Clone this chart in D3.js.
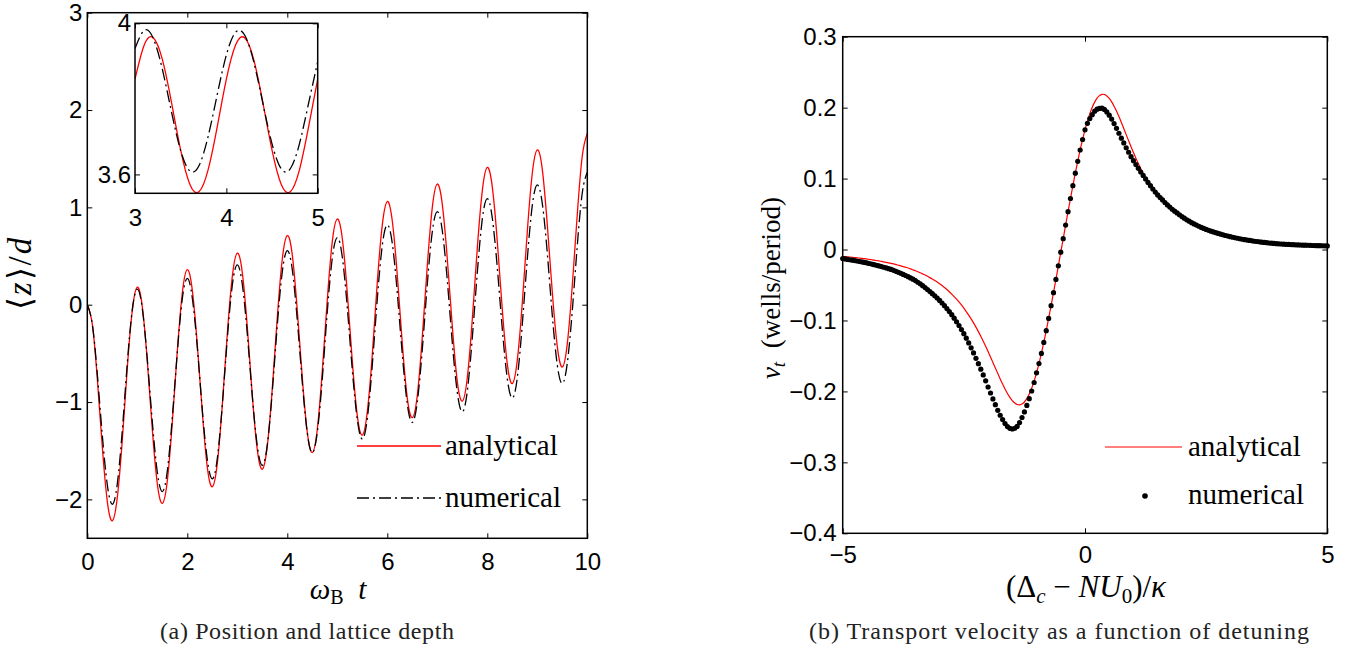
<!DOCTYPE html>
<html>
<head>
<meta charset="utf-8">
<script src="https://cdn.jsdelivr.net/npm/d3@7"></script>
<style>
body { margin: 0; background: #fff; }
svg { display: block; }
.tick text { font-family: "Liberation Sans", Arial, sans-serif; font-size: 24px; fill: #000; }
.tick line { stroke: #000; stroke-width: 1; }
</style>
</head>
<body>
<svg id="fig" width="1356" height="652"></svg>
<script>

// ---- (a) position <z>/d against omega_B t, sampled every 0.1 from t = 0
var timeStart = 0, timeStep = 0.1;
var posAnalytical = [
  0.00,-0.20,-0.76,-1.46,-2.02,-2.22,-1.98,-1.39,-0.65,-0.06,
  0.18,-0.02,-0.58,-1.28,-1.84,-2.04,-1.81,-1.21,-0.48,0.12,
  0.36,0.15,-0.41,-1.10,-1.67,-1.87,-1.63,-1.03,-0.30,0.29,
  0.53,0.33,-0.23,-0.93,-1.49,-1.69,-1.45,-0.86,-0.13,0.47,
  0.71,0.51,-0.06,-0.75,-1.31,-1.52,-1.28,-0.68,0.05,0.65,
  0.88,0.68,0.12,-0.58,-1.14,-1.34,-1.10,-0.51,0.23,0.82,
  1.06,0.86,0.30,-0.40,-0.96,-1.16,-0.93,-0.33,0.40,1.00,
  1.24,1.03,0.47,-0.22,-0.79,-0.99,-0.75,-0.15,0.58,1.17,
  1.41,1.21,0.65,-0.05,-0.61,-0.81,-0.57,0.02,0.75,1.35,
  1.59,1.39,0.82,0.13,-0.43,-0.64,-0.40,0.20,0.93,1.53,
  1.76];
var posNumerical = [
  0.00,-0.20,-0.71,-1.34,-1.85,-2.05,-1.84,-1.29,-0.60,-0.05,
  0.16,-0.04,-0.56,-1.20,-1.72,-1.92,-1.71,-1.16,-0.49,0.06,
  0.27,0.07,-0.44,-1.08,-1.59,-1.79,-1.58,-1.03,-0.35,0.20,
  0.41,0.21,-0.30,-0.94,-1.45,-1.65,-1.44,-0.89,-0.21,0.34,
  0.555,0.36,-0.16,-0.80,-1.32,-1.52,-1.31,-0.76,-0.07,0.48,
  0.69,0.49,-0.03,-0.67,-1.18,-1.38,-1.17,-0.62,0.06,0.61,
  0.82,0.63,0.12,-0.51,-1.02,-1.21,-1.00,-0.46,0.21,0.75,
  0.956,0.76,0.25,-0.39,-0.90,-1.10,-0.89,-0.34,0.33,0.88,
  1.09,0.89,0.38,-0.25,-0.76,-0.96,-0.75,-0.20,0.47,1.02,
  1.23,1.04,0.53,-0.11,-0.62,-0.81,-0.60,-0.06,0.61,1.15,
  1.36];
var posTicksX = [0, 2, 4, 6, 8, 10];
var posTicksY = [-2, -1, 0, 1, 2, 3];

// inset: lattice depth, t = 3 .. 5 every 0.1
var insetStart = 3, insetStep = 0.1;
var depthAnalytical = [3.852,3.942,3.962,3.904,3.790,3.664,3.574,3.554,3.612,3.726,
  3.852,3.942,3.962,3.904,3.790,3.664,3.574,3.554,3.612,3.726,3.852];
var depthNumerical = [3.933,3.981,3.960,3.878,3.765,3.663,3.609,3.623,3.700,3.811,
  3.916,3.976,3.969,3.898,3.788,3.681,3.615,3.615,3.681,3.788,3.898];
var insetTicksX = [3, 4, 5];
var insetTicksY = [3.6, 4];

// ---- (b) transport velocity against detuning, every 0.05 from -5
var detuneStart = -5, detuneStep = 0.05;
var velAnalytical = [
  -0.0095,-0.0099,-0.0102,-0.0105,-0.0109,-0.0113,-0.0116,-0.0121,-0.0125,-0.0129,
  -0.0134,-0.0139,-0.0144,-0.0149,-0.0155,-0.0161,-0.0167,-0.0174,-0.0180,-0.0188,
  -0.0195,-0.0203,-0.0212,-0.0221,-0.0230,-0.0240,-0.0250,-0.0261,-0.0273,-0.0286,
  -0.0299,-0.0313,-0.0327,-0.0343,-0.0359,-0.0377,-0.0396,-0.0416,-0.0437,-0.0459,
  -0.0483,-0.0508,-0.0535,-0.0564,-0.0595,-0.0628,-0.0663,-0.0700,-0.0739,-0.0781,
  -0.0826,-0.0874,-0.0924,-0.0978,-0.1034,-0.1094,-0.1157,-0.1223,-0.1292,-0.1363,
  -0.1438,-0.1514,-0.1591,-0.1669,-0.1747,-0.1824,-0.1897,-0.1967,-0.2030,-0.2085,
  -0.2130,-0.2164,-0.2184,-0.2189,-0.2178,-0.2149,-0.2102,-0.2037,-0.1954,-0.1854,
  -0.1738,-0.1607,-0.1464,-0.1309,-0.1144,-0.0971,-0.0792,-0.0608,-0.0421,-0.0230,
  -0.0038,0.0153,0.0344,0.0533,0.0719,0.0900,0.1076,0.1244,0.1403,0.1551,
  0.1687,0.1809,0.1916,0.2006,0.2078,0.2133,0.2169,0.2187,0.2185,0.2164,
  0.2129,0.2081,0.2021,0.1951,0.1874,0.1792,0.1707,0.1620,0.1534,0.1449,
  0.1367,0.1288,0.1213,0.1141,0.1074,0.1010,0.0951,0.0900,0.0853,0.0810,
  0.0770,0.0733,0.0699,0.0663,0.0629,0.0598,0.0568,0.0541,0.0516,0.0490,
  0.0465,0.0442,0.0419,0.0399,0.0379,0.0361,0.0344,0.0328,0.0312,0.0297,
  0.0284,0.0271,0.0259,0.0248,0.0237,0.0227,0.0217,0.0207,0.0198,0.0189,
  0.0181,0.0173,0.0166,0.0159,0.0152,0.0145,0.0139,0.0133,0.0128,0.0122,
  0.0117,0.0113,0.0108,0.0104,0.0100,0.0096,0.0092,0.0089,0.0086,0.0083,
  0.0080,0.0078,0.0076,0.0074,0.0072,0.0070,0.0068,0.0067,0.0065,0.0064,
  0.0062,0.0061,0.0060,0.0059,0.0057,0.0056,0.0055,0.0054,0.0053,0.0052,
  0.0051];
var velNumerical = [
  -0.0127,-0.0133,-0.0139,-0.0144,-0.0150,-0.0156,-0.0162,-0.0169,-0.0175,-0.0182,
  -0.0189,-0.0197,-0.0205,-0.0213,-0.0222,-0.0231,-0.0240,-0.0250,-0.0259,-0.0270,
  -0.0280,-0.0293,-0.0307,-0.0322,-0.0336,-0.0351,-0.0366,-0.0383,-0.0400,-0.0418,
  -0.0437,-0.0461,-0.0484,-0.0510,-0.0536,-0.0564,-0.0592,-0.0622,-0.0653,-0.0684,
  -0.0718,-0.0754,-0.0792,-0.0832,-0.0874,-0.0918,-0.0967,-0.1018,-0.1071,-0.1127,
  -0.1186,-0.1250,-0.1316,-0.1386,-0.1458,-0.1534,-0.1609,-0.1687,-0.1768,-0.1851,
  -0.1938,-0.2022,-0.2106,-0.2187,-0.2267,-0.2336,-0.2397,-0.2452,-0.2495,-0.2520,
  -0.2530,-0.2519,-0.2494,-0.2439,-0.2368,-0.2289,-0.2197,-0.2102,-0.1994,-0.1874,
  -0.1738,-0.1607,-0.1464,-0.1309,-0.1144,-0.0971,-0.0792,-0.0608,-0.0421,-0.0230,
  -0.0038,0.0153,0.0344,0.0533,0.0719,0.0900,0.1076,0.1244,0.1403,0.1551,
  0.1687,0.1779,0.1846,0.1901,0.1950,0.1978,0.1989,0.1992,0.1975,0.1940,
  0.1894,0.1839,0.1776,0.1708,0.1639,0.1570,0.1502,0.1435,0.1371,0.1309,
  0.1252,0.1198,0.1145,0.1093,0.1044,0.0995,0.0946,0.0900,0.0853,0.0810,
  0.0770,0.0733,0.0699,0.0663,0.0629,0.0598,0.0568,0.0541,0.0516,0.0490,
  0.0465,0.0442,0.0419,0.0399,0.0379,0.0361,0.0344,0.0328,0.0312,0.0297,
  0.0284,0.0271,0.0259,0.0248,0.0237,0.0227,0.0217,0.0207,0.0198,0.0189,
  0.0181,0.0173,0.0166,0.0159,0.0152,0.0145,0.0139,0.0133,0.0128,0.0122,
  0.0117,0.0113,0.0108,0.0104,0.0100,0.0096,0.0092,0.0089,0.0086,0.0083,
  0.0080,0.0078,0.0076,0.0074,0.0072,0.0070,0.0068,0.0067,0.0065,0.0064,
  0.0062,0.0061,0.0060,0.0059,0.0057,0.0056,0.0055,0.0054,0.0053,0.0052,
  0.0051];
var velTicksX = [-5, 0, 5];
var velTicksY = [-0.4, -0.3, -0.2, -0.1, 0, 0.1, 0.2, 0.3];

var legendNames = ["analytical", "numerical"];
var captions = ["(a) Position and lattice depth", "(b) Transport velocity as a function of detuning"];

var red = "#ff0000";
var dashDot = "12,4,2,4";
var serif = "'Liberation Serif', 'Times New Roman', serif";

var svg = d3.select("#fig");

function minus(s) { return String(s).replace("-", "\u2212"); }

// serif text element helper
function serifText(g, size) {
    return g.append("text")
        .style("font-family", serif)
        .style("font-size", size + "px")
        .attr("fill", "#000");
}

// box with inward ticks on all four sides (matlab style)
function frame(g, x, y, tx, ty, fx, fy, padX, padY) {
    var x0 = x.range()[0], x1 = x.range()[1], y0 = y.range()[0], y1 = y.range()[1];
    g.append("g").attr("transform", "translate(0," + y0 + ")")
        .call(d3.axisBottom(x).tickValues(tx).tickSize(-5).tickPadding(padX).tickFormat(fx))
        .call(function(a) { a.select(".domain").remove(); });
    g.append("g").attr("transform", "translate(0," + y1 + ")")
        .call(d3.axisTop(x).tickValues(tx).tickSize(-5).tickFormat(""))
        .call(function(a) { a.select(".domain").remove(); });
    g.append("g").attr("transform", "translate(" + x0 + ",0)")
        .call(d3.axisLeft(y).tickValues(ty).tickSize(-5).tickPadding(padY).tickFormat(fy))
        .call(function(a) { a.select(".domain").remove(); });
    g.append("g").attr("transform", "translate(" + x1 + ",0)")
        .call(d3.axisRight(y).tickValues(ty).tickSize(-5).tickFormat(""))
        .call(function(a) { a.select(".domain").remove(); });
    g.append("rect")
        .attr("x", x0).attr("y", y1)
        .attr("width", x1 - x0).attr("height", y0 - y1)
        .attr("fill", "none").attr("stroke", "#000").attr("stroke-width", 1.5);
}

function clip(id, x, y) {
    svg.append("clipPath").attr("id", id).append("rect")
        .attr("x", x.range()[0]).attr("y", y.range()[1])
        .attr("width", x.range()[1] - x.range()[0])
        .attr("height", y.range()[0] - y.range()[1]);
}

function curvePath(arr, start, step, x, y) {
    return d3.line()
        .x(function(d, i) { return x(start + i * step); })
        .y(function(d) { return y(d); })
        .curve(d3.curveNatural)(arr);
}

// ================= panel (a) =================
var xa = d3.scaleLinear().domain([0, 10]).range([87.3, 587.3]);
var ya = d3.scaleLinear().domain([-2.4, 3]).range([538.3, 12.7]);
clip("clipA", xa, ya);

var ga = svg.append("g");
ga.append("path").attr("clip-path", "url(#clipA)")
    .attr("d", curvePath(posAnalytical, timeStart, timeStep, xa, ya))
    .attr("fill", "none").attr("stroke", red).attr("stroke-width", 1.3);
ga.append("path").attr("clip-path", "url(#clipA)")
    .attr("d", curvePath(posNumerical, timeStart, timeStep, xa, ya))
    .attr("fill", "none").attr("stroke", "#000").attr("stroke-width", 1.3)
    .attr("stroke-dasharray", dashDot);

frame(ga, xa, ya, posTicksX, posTicksY,
    function(d) { return minus(d); }, function(d) { return minus(d); }, 15, 5);

// legend (no box)
ga.append("line").attr("x1", 357).attr("x2", 441).attr("y1", 446).attr("y2", 446)
    .attr("stroke", red).attr("stroke-width", 1.3);
ga.append("line").attr("x1", 357).attr("x2", 441).attr("y1", 498).attr("y2", 498)
    .attr("stroke", "#000").attr("stroke-width", 1.3).attr("stroke-dasharray", dashDot);
legendNames.forEach(function(name, i) {
    serifText(ga, 29).attr("x", 445).attr("y", 455 + i * 52).text(name);
});

// inset
var xi = d3.scaleLinear().domain([3, 5]).range([135, 317.7]);
var yi = d3.scaleLinear().domain([3.55, 4]).range([193.3, 23.3]);
clip("clipI", xi, yi);
var gi = svg.append("g");
gi.append("rect").attr("x", 135).attr("y", 23.3).attr("width", 182.7).attr("height", 170).attr("fill", "#fff");
gi.append("path").attr("clip-path", "url(#clipI)")
    .attr("d", curvePath(depthAnalytical, insetStart, insetStep, xi, yi))
    .attr("fill", "none").attr("stroke", red).attr("stroke-width", 1.3);
gi.append("path").attr("clip-path", "url(#clipI)")
    .attr("d", curvePath(depthNumerical, insetStart, insetStep, xi, yi))
    .attr("fill", "none").attr("stroke", "#000").attr("stroke-width", 1.3)
    .attr("stroke-dasharray", dashDot);
frame(gi, xi, yi, insetTicksX, insetTicksY,
    function(d) { return d; }, function(d) { return d; }, 16, 4);

// axis labels (a)
serifText(ga, 33).attr("text-anchor", "middle").style("letter-spacing", "2px")
    .attr("transform", "translate(31,273) rotate(-90)")
    .call(function(t) {
        t.append("tspan").text("\u27E8");
        t.append("tspan").style("font-style", "italic").text("z");
        t.append("tspan").text("\u27E9/");
        t.append("tspan").style("font-style", "italic").text("d");
    });
serifText(ga, 29).attr("text-anchor", "middle").attr("x", 338).attr("y", 599)
    .call(function(t) {
        t.append("tspan").style("font-style", "italic").text("\u03C9");
        t.append("tspan").attr("dy", 5).style("font-size", "20px").text("B");
        t.append("tspan").attr("dy", -5).style("font-style", "italic").text("\u2002t");
    });

// ================= panel (b) =================
var xb = d3.scaleLinear().domain([-5, 5]).range([842.7, 1327.3]);
var yb = d3.scaleLinear().domain([-0.4, 0.3]).range([533.3, 36.7]);
clip("clipB", xb, yb);

var gb = svg.append("g");
gb.append("path").attr("clip-path", "url(#clipB)")
    .attr("d", curvePath(velAnalytical, detuneStart, detuneStep, xb, yb))
    .attr("fill", "none").attr("stroke", red).attr("stroke-width", 1.2);
gb.selectAll("circle.num").data(velNumerical).enter().append("circle")
    .attr("class", "num")
    .attr("cx", function(d, i) { return xb(detuneStart + i * detuneStep); })
    .attr("cy", function(d) { return yb(d); })
    .attr("r", 2.6).attr("fill", "#000");

frame(gb, xb, yb, velTicksX, velTicksY,
    function(d) { return minus(d); },
    function(d) { return d === 0 ? "0" : minus(d3.format(".1f")(d)); }, 13, 6);

gb.append("line").attr("x1", 1105).attr("x2", 1182).attr("y1", 447).attr("y2", 447)
    .attr("stroke", red).attr("stroke-width", 1.2);
gb.append("circle").attr("cx", 1145).attr("cy", 496).attr("r", 2.8).attr("fill", "#000");
legendNames.forEach(function(name, i) {
    serifText(gb, 29).attr("x", 1188).attr("y", 456 + i * 48).text(name);
});

serifText(gb, 27).attr("text-anchor", "middle")
    .attr("transform", "translate(780,288) rotate(-90)")
    .call(function(t) {
        t.append("tspan").style("font-style", "italic").text("v");
        t.append("tspan").attr("dy", 5).style("font-size", "19px").style("font-style", "italic").text("t");
        t.append("tspan").attr("dy", -5).text("\u2002(wells/period)");
    });
serifText(gb, 31).attr("text-anchor", "middle").attr("x", 1086).attr("y", 597)
    .call(function(t) {
        t.append("tspan").text("(\u0394");
        t.append("tspan").attr("dy", 6).style("font-size", "21px").style("font-style", "italic").text("c");
        t.append("tspan").attr("dy", -6).text("\u2005\u2212\u2005");
        t.append("tspan").style("font-style", "italic").text("NU");
        t.append("tspan").attr("dy", 6).style("font-size", "21px").text("0");
        t.append("tspan").attr("dy", -6).text(")/");
        t.append("tspan").style("font-style", "italic").text("\u03BA");
    });

// captions (centred on each subfigure)
captions.forEach(function(c, i) {
    serifText(svg, 24).attr("fill", "#222").attr("text-anchor", "middle")
        .attr("x", i === 0 ? 307 : 1059).attr("y", 639)
        .attr("textLength", i === 0 ? 294 : 500).attr("lengthAdjust", "spacing")
        .text(c);
});

</script>
</body>
</html>
